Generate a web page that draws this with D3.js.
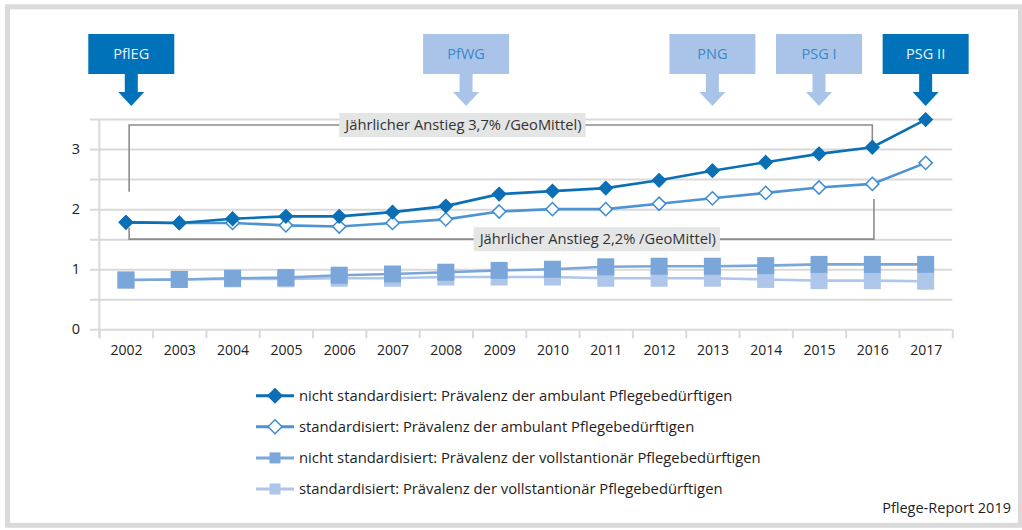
<!DOCTYPE html>
<html>
<head>
<meta charset="utf-8">
<script src="https://cdn.jsdelivr.net/npm/d3@7"></script>
<style>
  body { margin: 0; background: #fff; }
  svg { display: block; font-family: "Open Sans", sans-serif; }
  .tick text { font-family: "Open Sans", sans-serif; }
</style>
</head>
<body>
<div id="main"></div>
<script>
// Pflege-Report 2019: Prävalenz ambulant / vollstationär
const years = [2002, 2003, 2004, 2005, 2006, 2007, 2008, 2009, 2010, 2011, 2012, 2013, 2014, 2015, 2016, 2017];
const ambulantRaw = [1.78, 1.77, 1.84, 1.88, 1.88, 1.95, 2.05, 2.25, 2.30, 2.35, 2.48, 2.64, 2.78, 2.92, 3.03, 3.49];
const ambulantStd = [1.78, 1.77, 1.77, 1.73, 1.71, 1.77, 1.83, 1.96, 2.00, 2.00, 2.09, 2.18, 2.27, 2.36, 2.42, 2.77];
const stationaerRaw = [0.82, 0.83, 0.85, 0.86, 0.90, 0.92, 0.95, 0.98, 1.00, 1.04, 1.05, 1.05, 1.06, 1.08, 1.08, 1.08];
const stationaerStd = [0.82, 0.83, 0.84, 0.84, 0.85, 0.85, 0.87, 0.87, 0.87, 0.85, 0.85, 0.85, 0.83, 0.81, 0.81, 0.80];
const yTicks = [0, 1, 2, 3];
const seriesLabels = [
  "nicht standardisiert: Prävalenz der ambulant Pflegebedürftigen",
  "standardisiert: Prävalenz der ambulant Pflegebedürftigen",
  "nicht standardisiert: Prävalenz der vollstantionär Pflegebedürftigen",
  "standardisiert: Prävalenz der vollstantionär Pflegebedürftigen"
];
const eventLabels = ["PflEG", "PfWG", "PNG", "PSG I", "PSG II"];
const eventYears = [2002.1, 2008.38, 2013, 2015, 2017];
const eventDark = [true, false, false, false, true];
const growthLabels = ["Jährlicher Anstieg 3,7% /GeoMittel)", "Jährlicher Anstieg 2,2% /GeoMittel)"];
const source = "Pflege-Report 2019";

const w = 1022;
const h = 530;
const plot = { left: 99.3, right: 952.3, top: 119, bottom: 329.3 };

const svg = d3.select("#main").append("svg")
  .attr("width", w)
  .attr("height", h);

// outer frame
svg.append("rect")
  .attr("x", 7.5).attr("y", 6.8)
  .attr("width", 1013).attr("height", 518.5)
  .attr("fill", "none")
  .attr("stroke", "#dadada")
  .attr("stroke-width", 5);

const x = d3.scaleLinear()
  .domain([years[0] - 0.5, years[years.length - 1] + 0.5])
  .range([plot.left, plot.right]);

const y = d3.scaleLinear()
  .domain([0, 3.5])
  .range([plot.bottom, plot.top]);

// horizontal grid every 0.5
const grid = d3.range(0, 3.51, 0.5);
svg.append("g")
  .attr("class", "grid")
  .attr("transform", "translate(90,0)")
  .call(d3.axisLeft(y).tickValues(grid).tickSize(-(plot.right - 90)).tickFormat(""))
  .call(g => g.select(".domain").remove())
  .call(g => g.selectAll("line").attr("stroke", "#d9d9d9").attr("stroke-width", 2));

// y labels
svg.append("g")
  .attr("transform", "translate(90,0)")
  .call(d3.axisLeft(y).tickValues(yTicks).tickSize(0).tickPadding(10).tickFormat(d3.format("d")))
  .call(g => g.select(".domain").remove())
  .call(g => g.selectAll("text").attr("font-size", 14.5).attr("fill", "#222"));

// y axis line
svg.append("line")
  .attr("x1", plot.left).attr("x2", plot.left)
  .attr("y1", plot.top).attr("y2", plot.bottom + 9)
  .attr("stroke", "#d9d9d9")
  .attr("stroke-width", 2);

// x boundary ticks
const bounds = years.map(d => d - 0.5).concat([years[years.length - 1] + 0.5]);
svg.append("g")
  .attr("transform", "translate(0," + plot.bottom + ")")
  .call(d3.axisBottom(x).tickValues(bounds).tickSize(9).tickFormat(""))
  .call(g => g.select(".domain").remove())
  .call(g => g.selectAll("line").attr("stroke", "#d9d9d9").attr("stroke-width", 2));

// x labels
svg.append("g")
  .attr("transform", "translate(0," + plot.bottom + ")")
  .call(d3.axisBottom(x).tickValues(years).tickSize(0).tickPadding(16).tickFormat(d3.format("d")))
  .call(g => g.select(".domain").remove())
  .call(g => g.selectAll("text").attr("font-size", 14).attr("fill", "#222"));

// growth brackets
const brackets = [
  [[2002.06, 2.29], [2002.06, 3.40], [2016, 3.40], [2016, 3.04]],
  [[2002.06, 1.69], [2002.06, 1.50], [2016.03, 1.50], [2016.03, 2.17]]
];
const bracketLabelPos = [[2008.33, 3.40], [2010.85, 1.50]];
const line = d3.line().x(d => x(d[0])).y(d => y(d[1]));

brackets.forEach((b, i) => {
  svg.append("path")
    .attr("d", line(b))
    .attr("fill", "none")
    .attr("stroke", "#8c8c8c")
    .attr("stroke-width", 1.6);
  const lg = svg.append("g")
    .attr("transform", "translate(" + x(bracketLabelPos[i][0]) + "," + y(bracketLabelPos[i][1]) + ")");
  const bg = lg.append("rect").attr("fill", "#e4e5e5");
  const t = lg.append("text")
    .attr("text-anchor", "middle")
    .attr("dy", "0.35em")
    .attr("font-size", 14.7)
    .attr("fill", "#333")
    .text(growthLabels[i]);
  const bb = t.node().getBBox();
  bg.attr("x", bb.x - 4).attr("y", -12).attr("width", bb.width + 8).attr("height", 24);
});

// series
const seriesData = [ambulantRaw, ambulantStd, stationaerRaw, stationaerStd];
const seriesStyle = [
  { line: "#0a6fb5", width: 2.6, shape: "diamond", fill: "#0a6fb5", stroke: "#0a6fb5" },
  { line: "#4b93d4", width: 2.6, shape: "diamond", fill: "#fff", stroke: "#3d8cd2" },
  { line: "#7aa6da", width: 2.6, shape: "square", fill: "#7aa6da", stroke: "none" },
  { line: "#aec6ea", width: 2.6, shape: "square", fill: "#aec6ea", stroke: "none" }
];

function marker(g, shape, size) {
  if (shape === "diamond") {
    return g.append("path").attr("d", "M0," + (-size) + "L" + size + ",0L0," + size + "L" + (-size) + ",0Z");
  }
  return g.append("rect").attr("x", -size).attr("y", -size).attr("width", size * 2).attr("height", size * 2);
}

const seriesLine = d3.line().x((d, i) => x(years[i])).y(d => y(d));

[3, 2, 1, 0].forEach(s => {
  const st = seriesStyle[s];
  svg.append("path")
    .attr("d", seriesLine(seriesData[s]))
    .attr("fill", "none")
    .attr("stroke", st.line)
    .attr("stroke-width", st.width);
  seriesData[s].forEach((v, i) => {
    const g = svg.append("g").attr("transform", "translate(" + x(years[i]) + "," + y(v) + ")");
    marker(g, st.shape, st.shape === "diamond" ? 6.6 : 8.5)
      .attr("fill", st.fill)
      .attr("stroke", st.stroke)
      .attr("stroke-width", 1.5);
  });
});

// event boxes with arrows
eventLabels.forEach((lab, i) => {
  const cx = x(eventYears[i]);
  const col = eventDark[i] ? "#0072b9" : "#aac4e9";
  const g = svg.append("g").attr("transform", "translate(" + cx + ",0)");
  g.append("rect")
    .attr("x", -43).attr("y", 34)
    .attr("width", 86).attr("height", 40)
    .attr("fill", col);
  g.append("path")
    .attr("d", "M-6.5,73L6.5,73L6.5,92L13,92L0,106L-13,92L-6.5,92Z")
    .attr("fill", col);
  g.append("text")
    .attr("x", 0).attr("y", 54)
    .attr("dy", "0.35em")
    .attr("text-anchor", "middle")
    .attr("font-size", 14.5)
    .attr("fill", eventDark[i] ? "#e8f1fa" : "#3b87c9")
    .text(lab);
});

// legend
const legend = svg.append("g").attr("transform", "translate(256,395.7)");
seriesLabels.forEach((lab, i) => {
  const st = seriesStyle[i];
  const g = legend.append("g").attr("transform", "translate(0," + (i * 31.1) + ")");
  g.append("line")
    .attr("x1", 0).attr("x2", 38)
    .attr("stroke", st.line)
    .attr("stroke-width", 3);
  const m = g.append("g").attr("transform", "translate(19,0)");
  marker(m, st.shape, st.shape === "diamond" ? 7 : 5.5)
    .attr("fill", st.fill)
    .attr("stroke", st.stroke)
    .attr("stroke-width", 1.5);
  g.append("text")
    .attr("x", 43)
    .attr("dy", "0.35em")
    .attr("font-size", 14.8)
    .attr("fill", "#1e1e1e")
    .text(lab);
});

svg.append("text")
  .attr("x", 1011).attr("y", 508)
  .attr("dy", "0.35em")
  .attr("text-anchor", "end")
  .attr("font-size", 14.5)
  .attr("fill", "#1e1e1e")
  .text(source);
</script>
</body>
</html>
